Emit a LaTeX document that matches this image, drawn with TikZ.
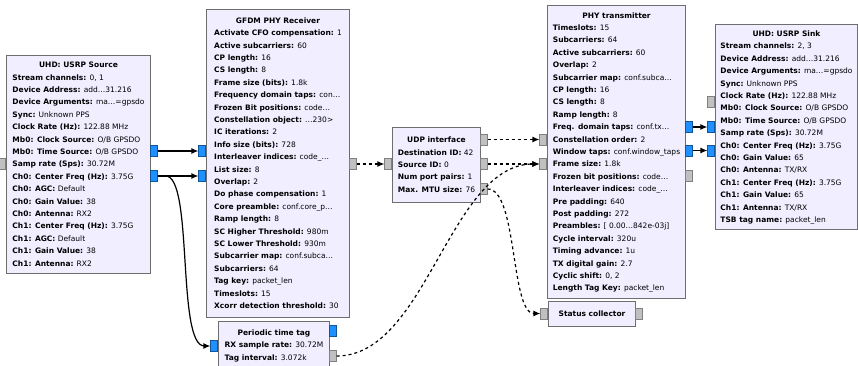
\documentclass[tikz,border=0pt]{standalone}
\usepackage{fontspec}
\setmainfont{DejaVu Sans}
\usetikzlibrary{arrows.meta}

\definecolor{blockfill}{RGB}{241,238,255}
\definecolor{blockline}{RGB}{110,110,110}
\definecolor{cplx}{RGB}{30,144,255}
\definecolor{msgport}{RGB}{192,192,192}

\newcommand{\kv}[2]{\textbf{#1:} #2}
\newcommand{\blk}[2]{\begin{tabular}{@{}l@{}}\multicolumn{1}{@{}c@{}}{\textbf{#1}}\\#2\end{tabular}}

\begin{document}
\begin{tikzpicture}[x=1pt,y=-1pt,
  font=\fontsize{7.5}{12.4}\selectfont,
  block/.style={draw=blockline,fill=blockfill,line width=1pt,anchor=north west,inner sep=0pt},
  cport/.style={draw=cplx!60!black,fill=cplx,minimum width=7pt,minimum height=11pt,inner sep=0pt,line width=0.6pt},
  mport/.style={cport,draw=gray,fill=msgport},
  wire/.style={line width=1.2pt,-{Latex[length=7pt,width=6pt]}},
  msgwire/.style={wire,dash pattern=on 3pt off 3pt}]

\useasboundingbox (0,0) rectangle (858,366);

\node[block,minimum width=144pt,minimum height=218pt] (src) at (6,55) {\blk{UHD: USRP Source}{%
\kv{Stream channels}{0, 1}\\
\kv{Device Address}{add…31.216}\\
\kv{Device Arguments}{ma…=gpsdo}\\
\kv{Sync}{Unknown PPS}\\
\kv{Clock Rate (Hz)}{122.88 MHz}\\
\kv{Mb0: Clock Source}{O/B GPSDO}\\
\kv{Mb0: Time Source}{O/B GPSDO}\\
\kv{Samp rate (Sps)}{30.72M}\\
\kv{Ch0: Center Freq (Hz)}{3.75G}\\
\kv{Ch0: AGC}{Default}\\
\kv{Ch0: Gain Value}{38}\\
\kv{Ch0: Antenna}{RX2}\\
\kv{Ch1: Center Freq (Hz)}{3.75G}\\
\kv{Ch1: AGC}{Default}\\
\kv{Ch1: Gain Value}{38}\\
\kv{Ch1: Antenna}{RX2}}};

\node[block,minimum width=143pt,minimum height=308pt] (rx) at (206,9) {\blk{GFDM PHY Receiver}{%
\kv{Activate CFO compensation}{1}\\
\kv{Active subcarriers}{60}\\
\kv{CP length}{16}\\
\kv{CS length}{8}\\
\kv{Frame size (bits)}{1.8k}\\
\kv{Frequency domain taps}{con…}\\
\kv{Frozen Bit positions}{code…}\\
\kv{Constellation object}{…230>}\\
\kv{IC iterations}{2}\\
\kv{Info size (bits)}{728}\\
\kv{Interleaver indices}{code\_…}\\
\kv{List size}{8}\\
\kv{Overlap}{2}\\
\kv{Do phase compensation}{1}\\
\kv{Core preamble}{conf.core\_p…}\\
\kv{Ramp length}{8}\\
\kv{SC Higher Threshold}{980m}\\
\kv{SC Lower Threshold}{930m}\\
\kv{Subcarrier map}{conf.subca…}\\
\kv{Subcarriers}{64}\\
\kv{Tag key}{packet\_len}\\
\kv{Timeslots}{15}\\
\kv{Xcorr detection threshold}{30}}};

\node[block,minimum width=111pt,minimum height=48pt] (tag) at (218,321) {\blk{Periodic time tag}{%
\kv{RX sample rate}{30.72M}\\
\kv{Tag interval}{3.072k}}};

\node[block,minimum width=88pt,minimum height=75pt] (udp) at (392,127) {\blk{UDP interface}{%
\kv{Destination ID}{42}\\
\kv{Source ID}{0}\\
\kv{Num port pairs}{1}\\
\kv{Max. MTU size}{76}}};

\node[block,minimum width=138pt,minimum height=293pt] (tx) at (547,5) {\blk{PHY transmitter}{%
\kv{Timeslots}{15}\\
\kv{Subcarriers}{64}\\
\kv{Active subcarriers}{60}\\
\kv{Overlap}{2}\\
\kv{Subcarrier map}{conf.subca…}\\
\kv{CP length}{16}\\
\kv{CS length}{8}\\
\kv{Ramp length}{8}\\
\kv{Freq. domain taps}{conf.tx…}\\
\kv{Constellation order}{2}\\
\kv{Window taps}{conf.window\_taps}\\
\kv{Frame size}{1.8k}\\
\kv{Frozen bit positions}{code…}\\
\kv{Interleaver indices}{code\_…}\\
\kv{Pre padding}{640}\\
\kv{Post padding}{272}\\
\kv{Preambles}{[ 0.00…842e-03j]}\\
\kv{Cycle interval}{320u}\\
\kv{Timing advance}{1u}\\
\kv{TX digital gain}{2.7}\\
\kv{Cyclic shift}{0, 2}\\
\kv{Length Tag Key}{packet\_len}}};

\node[block,minimum width=87pt,minimum height=25pt] (stat) at (548,301) {\textbf{Status collector}};

\node[block,minimum width=142pt,minimum height=205pt] (snk) at (715,24) {\blk{UHD: USRP Sink}{%
\kv{Stream channels}{2, 3}\\
\kv{Device Address}{add…31.216}\\
\kv{Device Arguments}{ma…=gpsdo}\\
\kv{Sync}{Unknown PPS}\\
\kv{Clock Rate (Hz)}{122.88 MHz}\\
\kv{Mb0: Clock Source}{O/B GPSDO}\\
\kv{Mb0: Time Source}{O/B GPSDO}\\
\kv{Samp rate (Sps)}{30.72M}\\
\kv{Ch0: Center Freq (Hz)}{3.75G}\\
\kv{Ch0: Gain Value}{65}\\
\kv{Ch0: Antenna}{TX/RX}\\
\kv{Ch1: Center Freq (Hz)}{3.75G}\\
\kv{Ch1: Gain Value}{65}\\
\kv{Ch1: Antenna}{TX/RX}\\
\kv{TSB tag name}{packet\_len}}};

% ports
\node[mport,anchor=east] (src-i) at (6,164) {};
\node[cport,anchor=west] (src-o0) at (150,151) {};
\node[cport,anchor=west] (src-o1) at (150,176) {};

\node[cport,anchor=east] (rx-i0) at (206,151) {};
\node[cport,anchor=east] (rx-i1) at (206,176) {};
\node[mport,anchor=west] (rx-o) at (349,164) {};

\node[cport,anchor=east] (tag-i) at (218,346) {};
\node[cport,anchor=west] (tag-o0) at (329,331) {};
\node[mport,anchor=west] (tag-o1) at (329,356) {};

\node[mport,anchor=east] (udp-i) at (392,164) {};
\node[mport,anchor=west] (udp-o0) at (480,139.5) {};
\node[mport,anchor=west] (udp-o1) at (480,164) {};
\node[mport,anchor=west] (udp-o2) at (480,189) {};

\node[mport,anchor=east] (tx-i0) at (547,139.5) {};
\node[mport,anchor=east] (tx-i1) at (547,164) {};
\node[cport,anchor=west] (tx-o0) at (685,127) {};
\node[cport,anchor=west] (tx-o1) at (685,150.5) {};
\node[mport,anchor=west] (tx-o2) at (685,176) {};

\node[mport,anchor=east] (snk-im) at (715,102) {};
\node[cport,anchor=east] (snk-i0) at (715,127) {};
\node[cport,anchor=east] (snk-i1) at (715,150.5) {};

\node[mport,anchor=east] (stat-i) at (548,313.5) {};
\node[mport,anchor=west] (stat-o) at (635,313.5) {};

% stream connections
\draw[wire] (src-o0) -- (rx-i0);
\draw[wire] (src-o1) -- (rx-i1);
\draw[wire] (src-o1.east) -- ++(8,0) .. controls +(28,0) and +(-28,0) .. ([xshift=-6pt]tag-i.west) -- (tag-i.west);
\draw[wire] (tx-o0) -- (snk-i0);
\draw[wire] (tx-o1) -- (snk-i1);

% message connections
\draw[msgwire] (rx-o) -- (udp-i);
\draw[msgwire] (udp-o0) -- (tx-i0);
\draw[msgwire] (udp-o1) -- (tx-i1);
\draw[msgwire] (udp-o2.east) .. controls +(30,0) and +(-30,0) .. (stat-i.west);
\draw[msgwire] (tag-o1.east) .. controls +(90,0) and +(-90,0) .. (tx-i1.west);

\end{tikzpicture}
\end{document}
